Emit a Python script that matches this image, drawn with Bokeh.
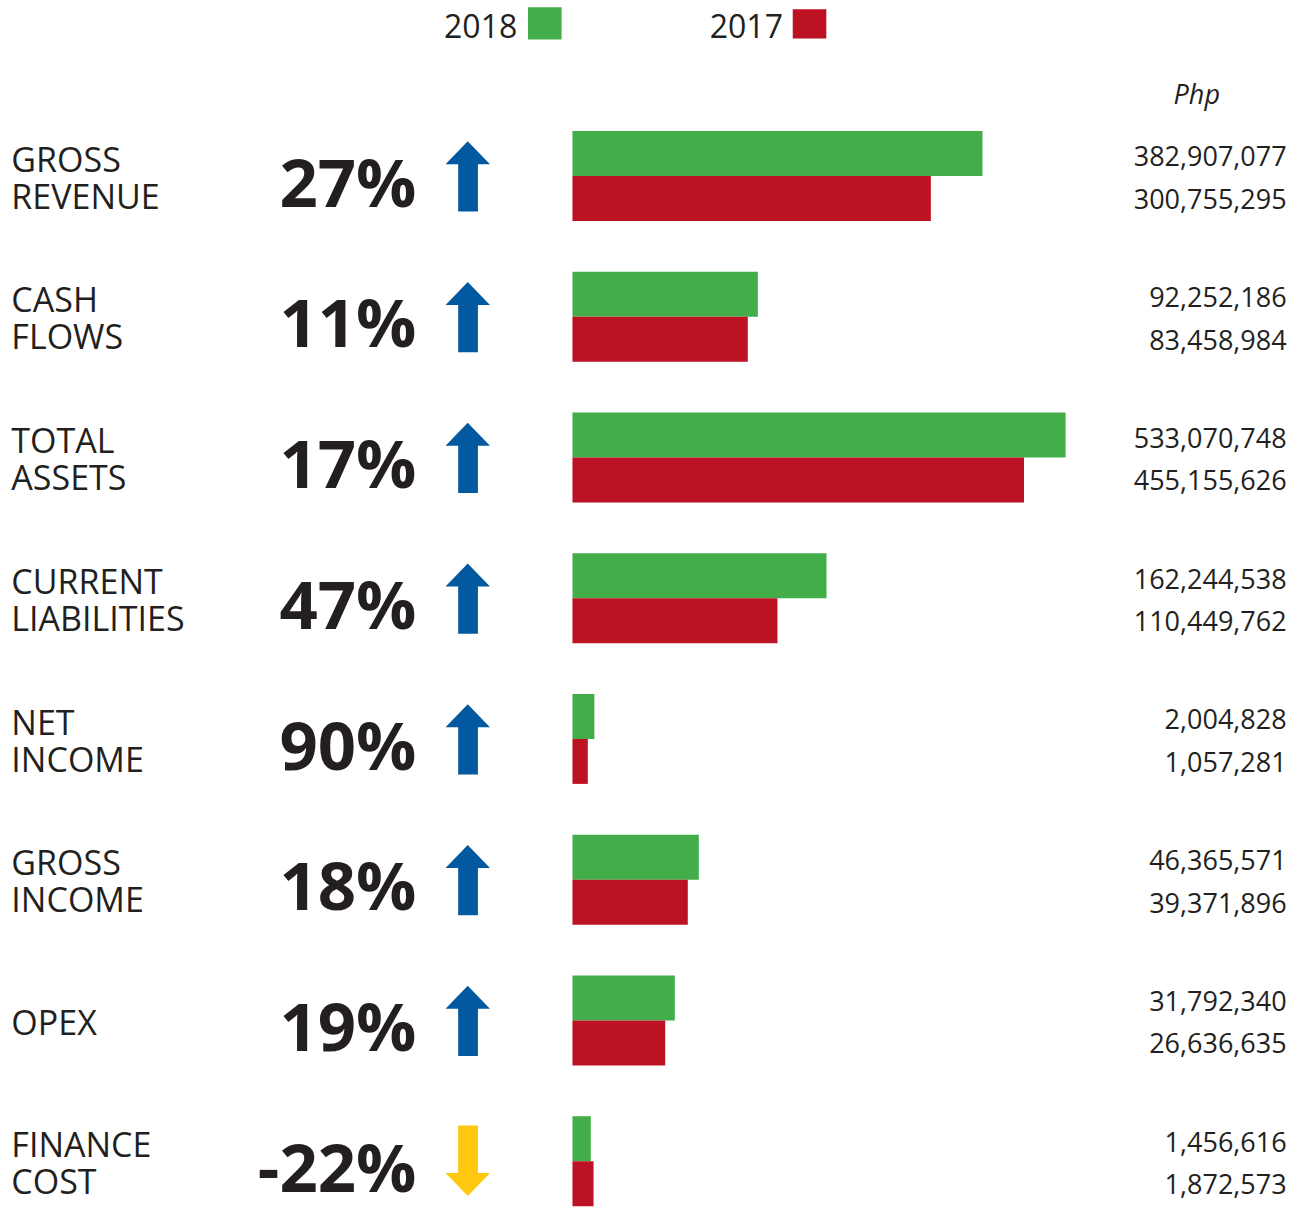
import numpy as np
from bokeh.plotting import figure
from bokeh.models import Range1d, ColumnDataSource
from bokeh.core.properties import value
from bokeh.embed import file_html
from bokeh.resources import INLINE

# ---------------- data ----------------
label_line1 = ["GROSS", "CASH", "TOTAL", "CURRENT", "NET", "GROSS", "OPEX", "FINANCE"]
label_line2 = ["REVENUE", "FLOWS", "ASSETS", "LIABILITIES", "INCOME", "INCOME", "", "COST"]
values_2018 = [382907077, 92252186, 533070748, 162244538, 2004828, 46365571, 31792340, 1456616]
values_2017 = [300755295, 83458984, 455155626, 110449762, 1057281, 39371896, 26636635, 1872573]
series_names = ["2018", "2017"]
unit_label = "Php"

# ---------------- style / layout ----------------
GREEN = "#43AE49"
RED = "#BC1224"
BLUE = "#03599F"
YELLOW = "#FFC80F"
INK = "#231F20"
FONT = value("Open Sans")

W, H = 1299, 1212          # figure size in px
RW, RH = 1315, 1240        # layout units
ROW = 144.0                # layout units per row
ROW0 = 179.5               # centre of first row
BAR_POW = 0.5576           # power scale used for bar lengths
BAR_K = 15.06              # layout units per scaled unit
BAR_X0 = 579               # bar origin
BASE_FIX = 0.39            # baseline correction (em) for svg text

n = len(values_2018)
rows = np.arange(n)
centers = ROW0 + ROW * rows


def tb(y, fs):
    """target alphabetic baseline -> anchor y"""
    return y - BASE_FIX * fs


p = figure(width=W, height=H, output_backend="svg", toolbar_location=None,
           x_range=Range1d(0, RW), y_range=Range1d(RH, 0),
           x_axis_type=None, y_axis_type=None, min_border=0)
p.outline_line_color = None
p.background_fill_color = "white"
p.border_fill_color = "white"
p.grid.visible = False

p.extra_x_ranges = {"bars": Range1d(-BAR_X0 / BAR_K, (RW - BAR_X0) / BAR_K)}

m18 = np.array(values_2018) / 1e6
m17 = np.array(values_2017) / 1e6
bar_h = 46
src = ColumnDataSource(dict(
    y18=centers - bar_h / 2, y17=centers + bar_h / 2,
    r18=m18 ** BAR_POW, r17=m17 ** BAR_POW,
))
p.hbar(y="y18", left=0, right="r18", height=bar_h, source=src,
       x_range_name="bars", fill_color=GREEN, line_color=None)
p.hbar(y="y17", left=0, right="r17", height=bar_h, source=src,
       x_range_name="bars", fill_color=RED, line_color=None)

# ---- category labels ----
LFS = 34
lab_x, lab_y, lab_t = [], [], []
for i in range(n):
    c = centers[i]
    if label_line2[i]:
        lab_x += [11, 11]
        lab_y += [tb(c - 4.5, LFS), tb(c + 33.5, LFS)]
        lab_t += [label_line1[i], label_line2[i]]
    else:
        lab_x.append(11)
        lab_y.append(tb(c + 14.5, LFS))
        lab_t.append(label_line1[i])
p.text(x=lab_x, y=lab_y, text=lab_t, text_font=FONT, text_font_size=f"{LFS}px",
       text_color=INK, text_baseline="alphabetic", text_align="left")

# ---- percent change ----
PFS = 67
v18 = np.array(values_2018)
v17 = np.array(values_2017)
pct = np.round((v18 - v17) / v17 * 100).astype(int)
pct_txt = [f"{v}%" for v in pct]
p.text(x=[421] * n, y=tb(centers + 31, PFS), text=pct_txt, text_font=FONT,
       text_font_size=f"{PFS}px", text_font_style="bold", text_color=INK,
       text_baseline="alphabetic", text_align="right")

# ---- arrows ----
xs, ys, cols = [], [], []
hl, hr, sl, sr = 450.5, 495.5, 463.3, 483.3
for i in range(n):
    c = centers[i]
    d = 1 if pct[i] >= 0 else -1
    tip = c - d * 35.5
    base = c - d * 12
    end = c + d * 36.5
    xs.append([(hl + hr) / 2, hr, sr, sr, sl, sl, hl])
    ys.append([tip, base, base, end, end, base, base])
    cols.append(BLUE if d > 0 else YELLOW)
p.patches(xs=xs, ys=ys, fill_color=cols, line_color=None)

# ---- values ----
VFS = 27
fmt18 = [f"{v:,}" for v in values_2018]
fmt17 = [f"{v:,}" for v in values_2017]
p.text(x=[1302] * n, y=tb(centers - 9.5, VFS), text=fmt18, text_font=FONT,
       text_font_size=f"{VFS}px", text_color=INK, text_baseline="alphabetic", text_align="right")
p.text(x=[1302] * n, y=tb(centers + 34, VFS), text=fmt17, text_font=FONT,
       text_font_size=f"{VFS}px", text_color=INK, text_baseline="alphabetic", text_align="right")

# ---- unit ----
p.text(x=[1211], y=[tb(106, 27)], text=[unit_label], text_font=FONT,
       text_font_size="27px", text_font_style="italic", text_color=INK,
       text_baseline="alphabetic", text_align="center")

# ---- legend ----
p.text(x=[449, 718], y=[tb(39, 32)] * 2, text=series_names, text_font=FONT,
       text_font_size="32px", text_color=INK, text_baseline="alphabetic", text_align="left")
p.quad(left=[534, 802], right=[568, 836], top=[7, 9], bottom=[40, 39],
       fill_color=[GREEN, RED], line_color=None)

open("out.html", "w").write(file_html(p, INLINE))
